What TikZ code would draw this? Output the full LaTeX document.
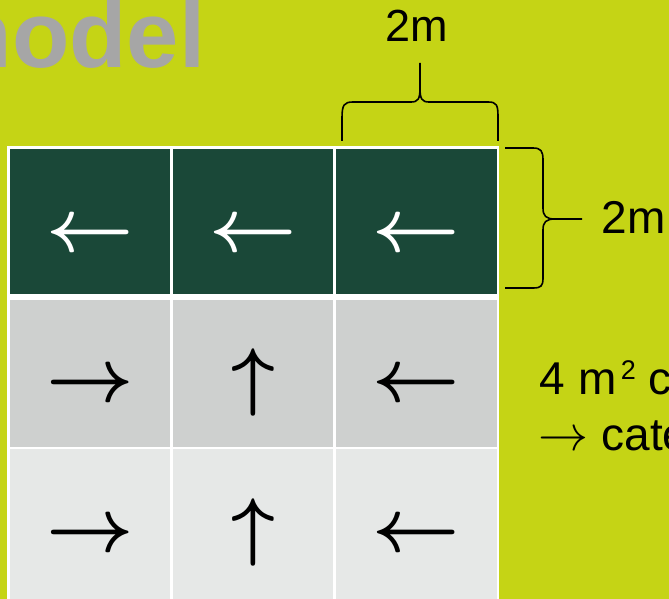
\documentclass[tikz,border=0pt]{standalone}
\usepackage{fontspec}
\setmainfont{Liberation Sans}
\definecolor{lime}{HTML}{C5D415}
\definecolor{dkgreen}{HTML}{1A4838}
\definecolor{gryA}{HTML}{CED0CF}
\definecolor{gryB}{HTML}{E6E8E7}
\definecolor{titlegray}{HTML}{A6A6A6}
\tikzset{
  cell/.style={rectangle, inner sep=0pt, outer sep=0pt, anchor=north west, minimum height=#1},
  hdr/.style={cell=145pt, fill=dkgreen},
  rowa/.style={cell=147pt, fill=gryA},
  rowb/.style={cell=151pt, fill=gryB},
  cw1/.style={minimum width=160pt},
  cw3/.style={minimum width=161pt},
  arr/.style={inner sep=0pt, anchor=base, font=\normalsize},
  big/.style={inner sep=0pt, anchor=base west, font=\fontsize{46}{56}\selectfont},
  brace/.style={draw=black, line width=1.6pt, line join=round}
}
\newcommand{\LA}{\scalebox{7.6}{\boldmath$\leftarrow$}}
\newcommand{\RA}{\scalebox{7.6}{\boldmath$\rightarrow$}}
\newcommand{\UA}{\scalebox{7.6}{\boldmath$\uparrow$}}
\newcommand{\SmallRA}{{\fontsize{10}{12}\selectfont\scalebox{5}{$\rightarrow$}}}
\begin{document}
\begin{tikzpicture}[x=1pt,y=-1pt]
\useasboundingbox (0,0) rectangle (669,599);
\clip (0,0) rectangle (669,599);
\fill[lime] (0,0) rectangle (669,599);
% title
\node[inner sep=0pt, anchor=base east, text=titlegray, font=\fontsize{94}{94}\selectfont\bfseries] (title) at (205.5,68) {model};
% table
\fill[white] (7,146) rectangle (499,605);
\node[hdr, cw1] (c11) at (10,149) {};
\node[hdr, cw1] (c12) at (173,149) {};
\node[hdr, cw3] (c13) at (336,149) {};
\node[rowa, cw1] (c21) at (10,300) {};
\node[rowa, cw1] (c22) at (173,300) {};
\node[rowa, cw3] (c23) at (336,300) {};
\node[rowb, cw1] (c31) at (10,449) {};
\node[rowb, cw1] (c32) at (173,449) {};
\node[rowb, cw3] (c33) at (336,449) {};
% arrows
\node[arr, text=white] (a11) at (90,251) {\LA};
\node[arr, text=white] (a12) at (253,251) {\LA};
\node[arr, text=white] (a13) at (416.5,251) {\LA};
\node[arr] (a21) at (90,401) {\RA};
\node[arr] (a22) at (253,401) {\UA};
\node[arr] (a23) at (416.5,401) {\LA};
\node[arr] (a31) at (90,551) {\RA};
\node[arr] (a32) at (253,551) {\UA};
\node[arr] (a33) at (416.5,551) {\LA};
% top brace
\draw[brace] (342,141) -- (342,118) .. controls (342,105) and (344,102) .. (353,102)
  -- (411,102) .. controls (418,102) and (420,99) .. (420,88) -- (420,63);
\draw[brace] (420,88) .. controls (420,99) and (422,102) .. (429,102)
  -- (488,102) .. controls (497,102) and (498,105) .. (498,118) -- (498,141);
\node[inner sep=0pt, anchor=base west, font=\fontsize{45}{45}\selectfont] (topdim) at (385.7,42) {2m};
% right brace
\draw[brace] (505,148) -- (533,148) .. controls (541,148) and (543,151) .. (543,160)
  -- (543,208) .. controls (543,216) and (546,219) .. (555,219) -- (582,219);
\draw[brace] (555,219) .. controls (546,219) and (543,222) .. (543,230)
  -- (543,278) .. controls (543,286) and (541,288) .. (533,288) -- (505,288);
\node[big] (rightdim) at (601.5,233) {2m};
% side text
\node[big] (t1) at (539.5,394) {4 m\hspace{4.5pt}{\fontsize{27}{27}\selectfont\raisebox{15pt}{2}} c};
\node[big] (t2) at (538.5,450) {\SmallRA{} cate};
\end{tikzpicture}
\end{document}
